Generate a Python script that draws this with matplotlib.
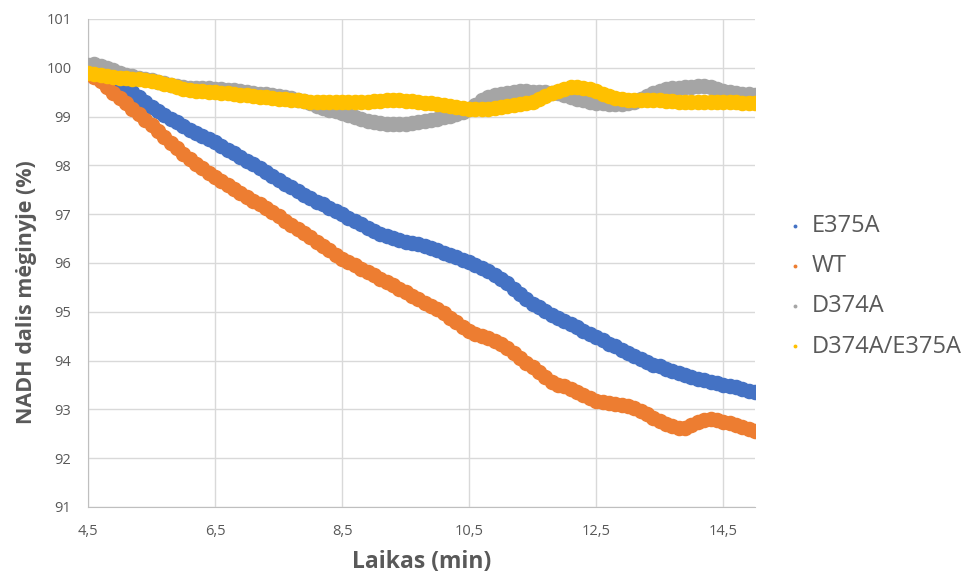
import numpy as np
import matplotlib.pyplot as plt

plt.rcParams['font.family'] = ['Open Sans', 'DejaVu Sans']

# time axis: one reading every 0.1 min
t = np.round(np.arange(4.5, 15.0001, 0.1), 1)

e375a = [
    99.92, 99.87, 99.82, 99.76, 99.71, 99.65, 99.58, 99.50, 99.40, 99.29,
    99.20, 99.12, 99.04, 98.96, 98.88, 98.80, 98.72, 98.66, 98.60, 98.54,
    98.48, 98.40, 98.32, 98.25, 98.18, 98.10, 98.02, 97.94, 97.86, 97.78,
    97.70, 97.62, 97.55, 97.47, 97.40, 97.33, 97.26, 97.20, 97.13, 97.06,
    97.00, 96.93, 96.86, 96.79, 96.72, 96.66, 96.60, 96.55, 96.51, 96.47,
    96.44, 96.41, 96.38, 96.34, 96.30, 96.26, 96.21, 96.17, 96.12, 96.07,
    96.02, 95.96, 95.90, 95.83, 95.76, 95.68, 95.58, 95.47, 95.36, 95.26,
    95.17, 95.09, 95.01, 94.94, 94.88, 94.82, 94.75, 94.68, 94.61, 94.54,
    94.48, 94.42, 94.35, 94.29, 94.22, 94.15, 94.09, 94.03, 93.97, 93.92,
    93.88, 93.83, 93.79, 93.75, 93.71, 93.67, 93.63, 93.60, 93.57, 93.54,
    93.51, 93.48, 93.45, 93.41, 93.38, 93.35,
]

wt = [
    99.92, 99.82, 99.72, 99.60, 99.49, 99.38, 99.27, 99.16, 99.05, 98.94,
    98.82, 98.70, 98.58, 98.46, 98.35, 98.24, 98.13, 98.03, 97.94, 97.85,
    97.76, 97.68, 97.60, 97.52, 97.44, 97.36, 97.28, 97.20, 97.12, 97.04,
    96.96, 96.87, 96.78, 96.70, 96.62, 96.53, 96.44, 96.35, 96.26, 96.17,
    96.09, 96.02, 95.95, 95.88, 95.81, 95.75, 95.68, 95.61, 95.54, 95.47,
    95.40, 95.33, 95.26, 95.19, 95.12, 95.05, 94.97, 94.88, 94.79, 94.69,
    94.60, 94.55, 94.50, 94.46, 94.41, 94.35, 94.25, 94.15, 94.05, 93.95,
    93.86, 93.76, 93.66, 93.57, 93.51, 93.47, 93.41, 93.35, 93.30, 93.24,
    93.18, 93.15, 93.13, 93.11, 93.09, 93.07, 93.02, 92.96, 92.90, 92.83,
    92.76, 92.70, 92.65, 92.61, 92.62, 92.68, 92.74, 92.79, 92.81, 92.79,
    92.75, 92.72, 92.68, 92.64, 92.60, 92.55,
]

d374a = [
    100.05, 100.07, 100.04, 100.00, 99.95, 99.90, 99.86, 99.83, 99.80, 99.77,
    99.74, 99.71, 99.68, 99.65, 99.62, 99.60, 99.59, 99.58, 99.58, 99.58,
    99.57, 99.56, 99.55, 99.54, 99.52, 99.50, 99.49, 99.47, 99.46, 99.44,
    99.42, 99.40, 99.38, 99.35, 99.31, 99.27, 99.22, 99.18, 99.14, 99.11,
    99.08, 99.04, 99.00, 98.96, 98.92, 98.89, 98.87, 98.85, 98.84, 98.84,
    98.85, 98.87, 98.89, 98.91, 98.94, 98.96, 98.99, 99.02, 99.05, 99.09,
    99.15, 99.24, 99.33, 99.40, 99.44, 99.47, 99.49, 99.51, 99.52, 99.52,
    99.51, 99.50, 99.50, 99.49, 99.48, 99.45, 99.41, 99.37, 99.33, 99.30,
    99.28, 99.27, 99.26, 99.26, 99.26, 99.27, 99.30, 99.36, 99.43, 99.49,
    99.53, 99.56, 99.58, 99.59, 99.60, 99.61, 99.62, 99.62, 99.60, 99.57,
    99.53, 99.51, 99.49, 99.47, 99.46, 99.45,
]

d374a_e375a = [
    99.90, 99.87, 99.85, 99.83, 99.82, 99.80, 99.79, 99.78, 99.77, 99.75,
    99.73, 99.70, 99.67, 99.64, 99.60, 99.57, 99.55, 99.53, 99.52, 99.51,
    99.50, 99.49, 99.48, 99.47, 99.45, 99.44, 99.42, 99.41, 99.40, 99.39,
    99.37, 99.36, 99.35, 99.34, 99.32, 99.30, 99.29, 99.29, 99.30, 99.30,
    99.30, 99.29, 99.29, 99.30, 99.30, 99.31, 99.32, 99.33, 99.33, 99.33,
    99.32, 99.31, 99.30, 99.28, 99.27, 99.26, 99.24, 99.22, 99.20, 99.18,
    99.16, 99.15, 99.15, 99.16, 99.17, 99.19, 99.21, 99.23, 99.25, 99.28,
    99.30, 99.36, 99.42, 99.48, 99.53, 99.57, 99.60, 99.60, 99.58, 99.56,
    99.52, 99.47, 99.42, 99.38, 99.36, 99.35, 99.34, 99.34, 99.34, 99.33,
    99.33, 99.32, 99.31, 99.30, 99.30, 99.30, 99.30, 99.30, 99.30, 99.30,
    99.29, 99.29, 99.29, 99.28, 99.28, 99.28,
]

series = [
    ("E375A", e375a, "#4472C4"),
    ("WT", wt, "#ED7D31"),
    ("D374A", d374a, "#A5A5A5"),
    ("D374A/E375A", d374a_e375a, "#FFC000"),
]

xticks = [4.5, 6.5, 8.5, 10.5, 12.5, 14.5]
xtick_labels = ["4,5", "6,5", "8,5", "10,5", "12,5", "14,5"]
yticks = list(range(91, 102))

fig = plt.figure(figsize=(9.78, 5.76), dpi=100)
ax = fig.add_axes([88/978, 1 - 507/576, (755 - 88)/978, (507 - 19)/576])

for name, vals, col in series:
    ax.scatter(t, vals, s=125, color=col, linewidths=0, label=name, zorder=3)

ax.set_xlim(4.5, 15.0)
ax.set_ylim(91, 101)
ax.set_xticks(xticks, xtick_labels)
ax.set_yticks(yticks)
ax.grid(True, color="#d9d9d9", linewidth=1)
ax.set_axisbelow(True)
ax.tick_params(length=0, labelsize=10.5, labelcolor="#595959")
ax.tick_params(axis="y", pad=12)
ax.tick_params(axis="x", pad=12)
for side in ["top", "right"]:
    ax.spines[side].set_visible(False)
for side in ["left", "bottom"]:
    ax.spines[side].set_color("#bfbfbf")

ax.set_xlabel("Laikas (min)", fontsize=16.5, fontweight="bold", color="#595959", va="center")
ax.xaxis.set_label_coords(0.5, -0.113)
ax.set_ylabel("NADH dalis mėginyje (%)", fontsize=15.5, fontweight="bold", color="#595959",
              va="center", ha="center")
ax.yaxis.set_label_coords(-0.0915, 0.44)

leg = ax.legend(loc="center left", bbox_to_anchor=(1.014, 0.452), frameon=False,
                fontsize=17, markerscale=0.25, handletextpad=0.3, labelspacing=0.68,
                handlelength=0.8)
for txt in leg.get_texts():
    txt.set_color("#595959")

fig.savefig("out.png", dpi=100)
